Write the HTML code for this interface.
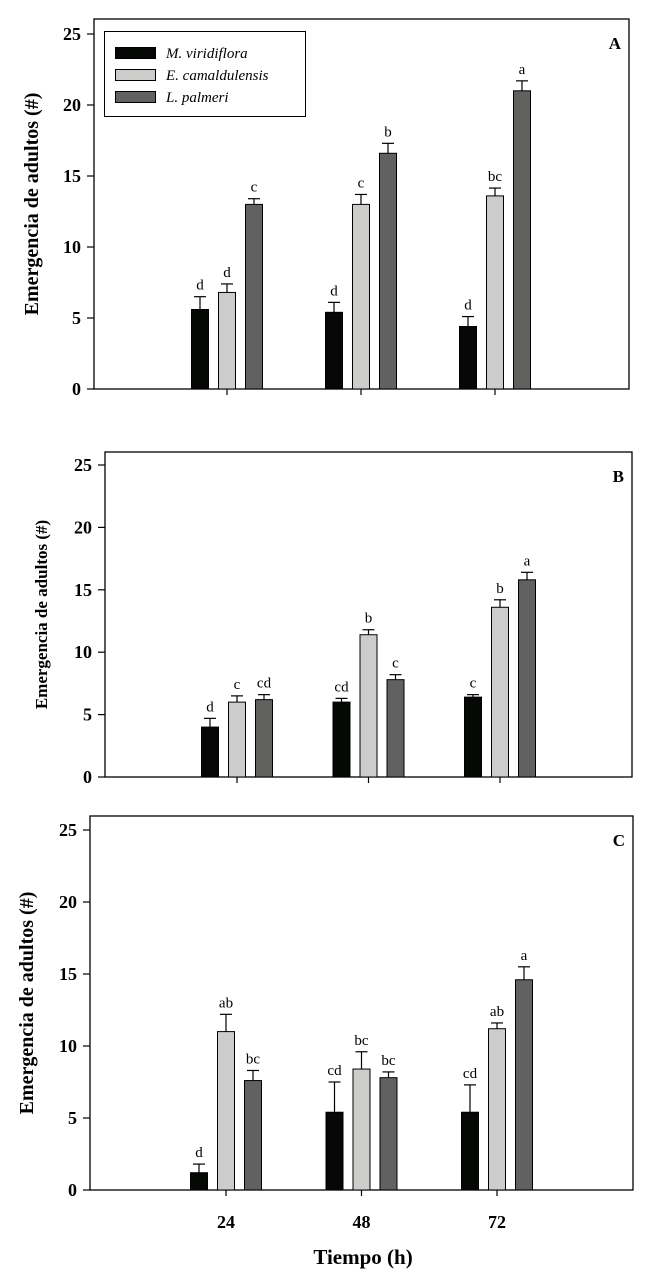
<!DOCTYPE html>
<html><head><meta charset="utf-8"><style>
html,body{margin:0;padding:0;background:#fff;}
svg{display:block;font-family:"Liberation Serif",serif;}
</style></head><body>
<svg id="chart" width="646" height="1283" viewBox="0 0 646 1283" xmlns="http://www.w3.org/2000/svg"></svg>
<script>
const categories = ["24","48","72"];
const seriesNames = ["M. viridiflora","E. camaldulensis","L. palmeri"];
const yTicks = [0,5,10,15,20,25];
const A_black = [5.6,5.4,4.4], A_blackErr = [0.9,0.7,0.7];
const A_light = [6.8,13.0,13.6], A_lightErr = [0.6,0.7,0.55];
const A_dark = [13.0,16.6,21.0], A_darkErr = [0.4,0.7,0.7];
const A_labels = [["d","d","c"],["d","c","b"],["d","bc","a"]];
const B_black = [4.0,6.0,6.4], B_blackErr = [0.7,0.3,0.2];
const B_light = [6.0,11.4,13.6], B_lightErr = [0.5,0.4,0.6];
const B_dark = [6.2,7.8,15.8], B_darkErr = [0.4,0.4,0.6];
const B_labels = [["d","c","cd"],["cd","b","c"],["c","b","a"]];
const C_black = [1.2,5.4,5.4], C_blackErr = [0.6,2.1,1.9];
const C_light = [11.0,8.4,11.2], C_lightErr = [1.2,1.2,0.4];
const C_dark = [7.6,7.8,14.6], C_darkErr = [0.7,0.4,0.9];
const C_labels = [["d","ab","bc"],["cd","bc","bc"],["cd","ab","a"]];
const colors = ["#050805","#cccccb","#616160"];
const NS = "http://www.w3.org/2000/svg";
const svg = document.getElementById("chart");
function mk(tag, attrs, parent){const e=document.createElementNS(NS,tag);for(const k in attrs)e.setAttribute(k,attrs[k]);(parent||svg).appendChild(e);return e;}

function panel(p){
  const g = mk("g",{});
  
  
  const y = v => p.y0 - (v/25)*(p.y0 - p.y25);
  const x = i => p.t0 + i*p.step;
  const frame = mk("rect",{x:p.left,y:p.top,width:p.right-p.left,height:p.y0-p.top,fill:"none",stroke:"#000","stroke-width":1.3},g);
  
  
  yTicks.forEach(t=>{
    mk("line",{x1:p.left-7,x2:p.left,y1:y(t),y2:y(t),stroke:"#000","stroke-width":1.2},g);
    const tl = mk("text",{x:p.left-13,y:y(t)+6,"text-anchor":"end","font-size":18,"font-weight":"bold"},g);
    tl.textContent = t;
    
    
  });
  categories.forEach((c,i)=>{
    mk("line",{x1:x(i),x2:x(i),y1:p.y0,y2:p.y0+6,stroke:"#000","stroke-width":1.2},g);
    if(p.xlabels){
      const xl = mk("text",{x:x(i),y:p.y0+38,"text-anchor":"middle","font-size":18,"font-weight":"bold"},g);
      xl.textContent = c;
      
      
    }
  });
  const series = [[p.b,p.be],[p.l,p.le],[p.d,p.de]];
  series.forEach((s,si)=>{
    s[0].forEach((v,i)=>{
      const cx = x(i) + (si-1)*p.off;
      const top = y(v), et = y(v+s[1][i]);
      mk("line",{x1:cx,x2:cx,y1:top,y2:et,stroke:"#000","stroke-width":1.2},g);
      mk("line",{x1:cx-6,x2:cx+6,y1:et,y2:et,stroke:"#000","stroke-width":1.2},g);
      const r = mk("rect",{x:cx-p.bw/2,y:top,width:p.bw,height:p.y0-top,fill:colors[si],stroke:"#000","stroke-width":1},g);
      
      
      const lt = mk("text",{x:cx,y:et-7,"text-anchor":"middle","font-size":15},g);
      lt.textContent = p.labels[i][si];
      
      
    });
  });
  const L = mk("text",{x:p.right-8,y:p.top+30,"text-anchor":"end","font-size":17,"font-weight":"bold"},g);
  L.textContent = p.letter;
  
  
  const yt = mk("text",{x:0,y:0,"text-anchor":"middle","font-size":p.yfs,"font-weight":"bold",transform:`translate(${p.ytx},${(p.top+p.y0)/2}) rotate(-90)`},g);
  yt.textContent = "Emergencia de adultos (#)";
  
  
}

panel({letter:"A",left:94,right:629,top:19,y0:389,y25:34,t0:227,step:134,off:27,bw:17,ytx:38,yfs:20,
  b:A_black,be:A_blackErr,l:A_light,le:A_lightErr,d:A_dark,de:A_darkErr,labels:A_labels});
panel({letter:"B",left:105,right:632,top:452,y0:777,y25:465,t0:237,step:131.5,off:27,bw:17,ytx:47,yfs:17,
  b:B_black,be:B_blackErr,l:B_light,le:B_lightErr,d:B_dark,de:B_darkErr,labels:B_labels});
panel({letter:"C",left:90,right:633,top:816,y0:1190,y25:830,t0:226,step:135.5,off:27,bw:17,ytx:33,yfs:20,xlabels:true,
  b:C_black,be:C_blackErr,l:C_light,le:C_lightErr,d:C_dark,de:C_darkErr,labels:C_labels});

const xt = mk("text",{x:363,y:1264,"text-anchor":"middle","font-size":21,"font-weight":"bold"});
xt.textContent = "Tiempo (h)";



const lg = mk("g",{});


mk("rect",{x:104.5,y:31.5,width:201,height:85,fill:"#fff",stroke:"#000","stroke-width":1},lg);
seriesNames.forEach((n,i)=>{
  const cy = 53 + i*22;
  const sw = mk("rect",{x:115.5,y:cy-5.5,width:40,height:11,fill:colors[i],stroke:"#000","stroke-width":1},lg);
  
  
  const t = mk("text",{x:166,y:cy+5,"font-size":15,"font-style":"italic"},lg);
  t.textContent = n;
  
  
});
</script>
</body></html>
